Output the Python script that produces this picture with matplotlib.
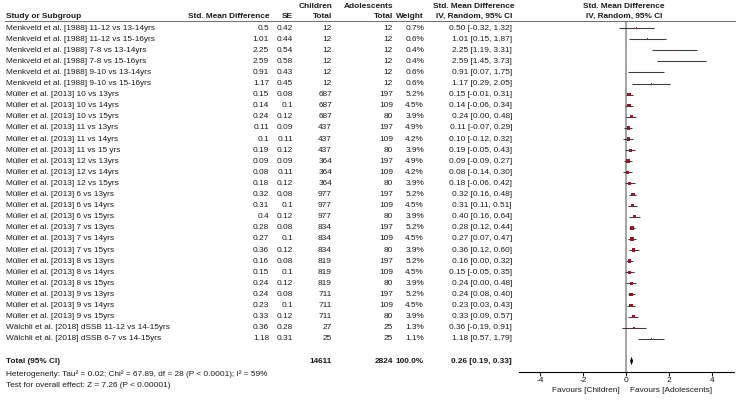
import matplotlib
matplotlib.use("Agg")
import matplotlib.pyplot as plt
from matplotlib.transforms import blended_transform_factory
from matplotlib.lines import Line2D
import numpy as np

plt.rcParams["font.family"] = ["Liberation Sans", "DejaVu Sans"]
plt.rcParams["axes.unicode_minus"] = False

# --- data ---
studies = [
    "Menkveld et al. [1988] 11-12 vs 13-14yrs",
    "Menkveld et al. [1988] 11-12 vs 15-16yrs",
    "Menkveld et al. [1988] 7-8 vs 13-14yrs",
    "Menkveld et al. [1988] 7-8 vs 15-16yrs",
    "Menkveld et al. [1988] 9-10 vs 13-14yrs",
    "Menkveld et al. [1988] 9-10 vs 15-16yrs",
    "Müller et al. [2013] 10 vs 13yrs",
    "Müller et al. [2013] 10 vs 14yrs",
    "Müller et al. [2013] 10 vs 15yrs",
    "Müller et al. [2013] 11 vs 13yrs",
    "Müller et al. [2013] 11 vs 14yrs",
    "Müller et al. [2013] 11 vs 15 yrs",
    "Müller et al. [2013] 12 vs 13yrs",
    "Müller et al. [2013] 12 vs 14yrs",
    "Müller et al. [2013] 12 vs 15yrs",
    "Müller et al. [2013] 6 vs 13yrs",
    "Müller et al. [2013] 6 vs 14yrs",
    "Müller et al. [2013] 6 vs 15yrs",
    "Müller et al. [2013] 7 vs 13yrs",
    "Müller et al. [2013] 7 vs 14yrs",
    "Müller et al. [2013] 7 vs 15yrs",
    "Müller et al. [2013] 8 vs 13yrs",
    "Müller et al. [2013] 8 vs 14yrs",
    "Müller et al. [2013] 8 vs 15yrs",
    "Müller et al. [2013] 9 vs 13yrs",
    "Müller et al. [2013] 9 vs 14yrs",
    "Müller et al. [2013] 9 vs 15yrs",
    "Wälchli et al. [2018] dSSB 11-12 vs 14-15yrs",
    "Wälchli et al. [2018] dSSB 6-7 vs 14-15yrs",
]
smd = [0.5, 1.01, 2.25, 2.59, 0.91, 1.17,
       0.15, 0.14, 0.24, 0.11, 0.1, 0.19, 0.09, 0.08, 0.18,
       0.32, 0.31, 0.4, 0.28, 0.27, 0.36, 0.16, 0.15, 0.24,
       0.24, 0.23, 0.33, 0.36, 1.18]
se = [0.42, 0.44, 0.54, 0.58, 0.43, 0.45,
      0.08, 0.1, 0.12, 0.09, 0.11, 0.12, 0.09, 0.11, 0.12,
      0.08, 0.1, 0.12, 0.08, 0.1, 0.12, 0.08, 0.1, 0.12,
      0.08, 0.1, 0.12, 0.28, 0.31]
n_children = [12, 12, 12, 12, 12, 12,
              687, 687, 687, 437, 437, 437, 364, 364, 364,
              977, 977, 977, 834, 834, 834, 819, 819, 819,
              711, 711, 711, 27, 25]
n_adolescents = [12, 12, 12, 12, 12, 12,
                 197, 109, 80, 197, 109, 80, 197, 109, 80,
                 197, 109, 80, 197, 109, 80, 197, 109, 80,
                 197, 109, 80, 25, 25]
weight = [0.7, 0.6, 0.4, 0.4, 0.6, 0.6,
          5.2, 4.5, 3.9, 4.9, 4.2, 3.9, 4.9, 4.2, 3.9,
          5.2, 4.5, 3.9, 5.2, 4.5, 3.9, 5.2, 4.5, 3.9,
          5.2, 4.5, 3.9, 1.3, 1.1]
ci_low = [-0.32, 0.15, 1.19, 1.45, 0.07, 0.29,
          -0.01, -0.06, 0.00, -0.07, -0.12, -0.05, -0.09, -0.14, -0.06,
          0.16, 0.11, 0.16, 0.12, 0.07, 0.12, 0.00, -0.05, 0.00,
          0.08, 0.03, 0.09, -0.19, 0.57]
ci_high = [1.32, 1.87, 3.31, 3.73, 1.75, 2.05,
           0.31, 0.34, 0.48, 0.29, 0.32, 0.43, 0.27, 0.30, 0.42,
           0.48, 0.51, 0.64, 0.44, 0.47, 0.60, 0.32, 0.35, 0.48,
           0.40, 0.43, 0.57, 0.91, 1.79]

total_n_children = 14611
total_n_adolescents = 2824
total_smd, total_lo, total_hi = 0.26, 0.19, 0.33
heterogeneity = "Heterogeneity: Tau² = 0.02; Chi² = 67.89, df = 28 (P < 0.0001); I² = 59%"
overall_test = "Test for overall effect: Z = 7.26 (P < 0.00001)"
xticks = [-4, -2, 0, 2, 4]

W, H = 740, 400
FS = 5.95
TXT = "#1a1a1a"
SQ = "#8b1a2e"

fig = plt.figure(figsize=(W / 100, H / 100), dpi=100)
# forest panel: x -5..5 spans px 518.5..733.5, rows 11.1 px apart starting at y=28
ax = fig.add_axes([518.5 / W, 1 - 372.1 / H, 215 / W, (372.1 - 21.9) / H])
ax.set_xlim(-5, 5)
ax.set_ylim(31.0, -0.55)

rows = np.arange(len(studies))
ax.axvline(0, color="#8a8a8a", lw=1.1, zorder=1)
ax.hlines(rows, ci_low, ci_high, color="#3a3a3a", lw=0.75, zorder=2)
sizes = [(1.6 * np.sqrt(w) * 0.72) ** 2 for w in weight]
ax.scatter(smd, rows, s=sizes, marker="s", color=SQ, linewidths=0, zorder=3)

total_row = 30
ax.fill([total_lo, total_smd, total_hi, total_smd],
        [total_row, total_row - 0.38, total_row, total_row + 0.38],
        color="black", lw=0, zorder=3)

for s in ("top", "left", "right"):
    ax.spines[s].set_visible(False)
ax.spines["bottom"].set_linewidth(0.8)
ax.set_yticks([])
ax.set_xticks(xticks)
ax.set_xticklabels([str(t) for t in xticks])
ax.tick_params(axis="x", length=3, width=0.8, pad=0.5, labelsize=FS, colors=TXT)
ax.patch.set_alpha(0)

# table text: x in figure pixels, y in forest rows
tr = blended_transform_factory(fig.transFigure, ax.transData)

def put(px, row, s, ha="right", bold=False):
    fig.text(px / W, row, s, transform=tr, ha=ha, va="center", fontsize=FS,
             color=TXT, fontweight="bold" if bold else "normal")

# headers
put(332, -1.9, "Children", bold=True)
put(393, -1.9, "Adolescents", bold=True)
put(474, -1.9, "Std. Mean Difference", ha="center", bold=True)
put(624, -1.9, "Std. Mean Difference", ha="center", bold=True)
put(6, -1.05, "Study or Subgroup", ha="left", bold=True)
put(269, -1.05, "Std. Mean Difference", bold=True)
put(293, -1.05, "SE", bold=True)
put(332, -1.05, "Total", bold=True)
put(393, -1.05, "Total", bold=True)
put(424, -1.05, "Weight", bold=True)
put(474, -1.05, "IV, Random, 95% CI", ha="center", bold=True)
put(624, -1.05, "IV, Random, 95% CI", ha="center", bold=True)
fig.add_artist(Line2D([5 / W, 735 / W], [1 - 21 / H, 1 - 21 / H],
                      transform=fig.transFigure, color="#555555", lw=0.6))

for i, name in enumerate(studies):
    put(6, i, name, ha="left")
    put(269, i, f"{smd[i]:g}")
    put(293, i, f"{se[i]:g}")
    put(332, i, str(n_children[i]))
    put(393, i, str(n_adolescents[i]))
    put(424, i, f"{weight[i]:.1f}%")
    put(512, i, f"{smd[i]:.2f} [{ci_low[i]:.2f}, {ci_high[i]:.2f}]")

put(6, total_row, "Total (95% CI)", ha="left", bold=True)
put(332, total_row, str(total_n_children), bold=True)
put(393, total_row, str(total_n_adolescents), bold=True)
put(424, total_row, "100.0%", bold=True)
put(512, total_row, f"{total_smd:.2f} [{total_lo:.2f}, {total_hi:.2f}]", bold=True)
put(6, 31.15, heterogeneity, ha="left")
put(6, 32.2, overall_test, ha="left")

trx = blended_transform_factory(ax.transData, fig.transFigure)
ax.text(-0.3, 1 - 391 / H, "Favours [Children]", transform=trx, ha="right",
        va="center", fontsize=FS, color=TXT)
ax.text(0.2, 1 - 391 / H, "Favours [Adolescents]", transform=trx, ha="left",
        va="center", fontsize=FS, color=TXT)

fig.savefig("out.png", dpi=100, facecolor="white")
